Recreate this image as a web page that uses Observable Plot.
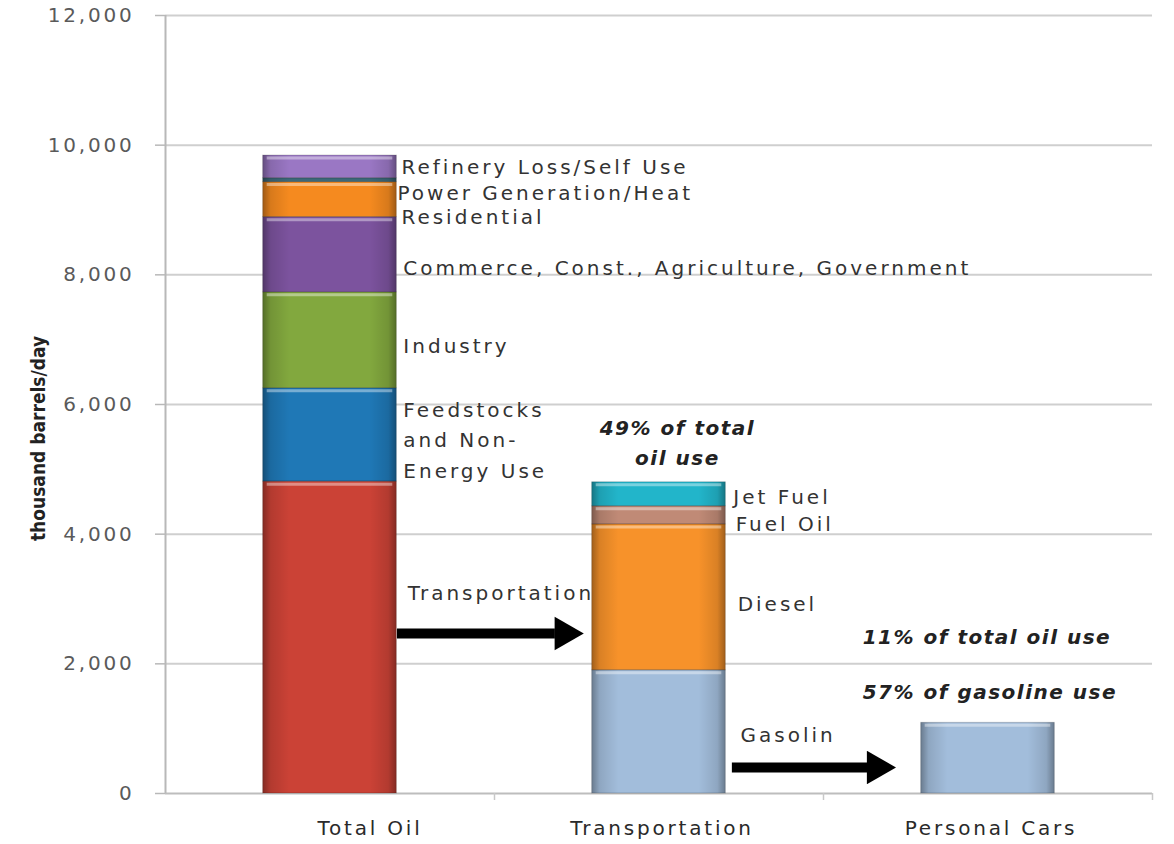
<!DOCTYPE html>
<html><head><meta charset="utf-8">
<script src="https://cdn.jsdelivr.net/npm/d3@7"></script>
<script src="https://cdn.jsdelivr.net/npm/@observablehq/plot@0.6"></script>
<style>
html,body{margin:0;padding:0;background:#fff;overflow:hidden;}
#chart svg{font-family:"DejaVu Sans",sans-serif;}
#chart svg text{letter-spacing:2.8px;}
#chart g[aria-label="y-axis tick label"] text{font-size:20px;fill:#5a5a5a;}
#chart .seglabel text{letter-spacing:3px;}
#chart .bolditalic text{letter-spacing:1.5px;}
#chart .ytitle text{letter-spacing:0px;font-family:"DejaVu Sans Condensed","DejaVu Sans",sans-serif;}
</style></head><body><div id="chart"></div>
<script>
// ---- data ----
const categories = ["Total Oil", "Transportation", "Personal Cars"];
const totalOilSegments = ["Transportation", "Feedstocks and Non-Energy Use", "Industry",
  "Commerce, Const., Agriculture, Government", "Power Generation/Heat", "Residential", "Refinery Loss/Self Use"];
const totalOilValues = [4810, 1440, 1480, 1160, 540, 60, 350];
const transportSegments = ["Gasolin", "Diesel", "Fuel Oil", "Jet Fuel"];
const transportValues = [1900, 2250, 280, 370];
const personalCarsSegments = ["Gasoline (personal cars)"];
const personalCarsValues = [1090];
const yTicks = [0, 2000, 4000, 6000, 8000, 10000, 12000];
const yTitle = "thousand barrels/day";

// annotation texts and their anchors (category units, thousand barrels/day)
const segLabels = ["Refinery Loss/Self Use", "Power Generation/Heat", "Residential",
  "Commerce, Const., Agriculture, Government", "Industry", "Feedstocks\nand Non-\nEnergy Use",
  "Transportation", "Jet Fuel", "Fuel Oil", "Diesel", "Gasolin"];
const segLabelX = [0.717, 0.705, 0.717, 0.723, 0.723, 0.723, 0.736, 1.726, 1.733, 1.739, 1.748];
const segLabelY = [9700, 9300, 8940, 8144, 6941, 5491, 3131, 4612, 4195, 2961, 941];
const centerNote = "49% of total\noil use";
const centerNoteX = 1.556;
const centerNoteY = 5445;
const sideNotes = ["11% of total oil use", "57% of gasoline use"];
const sideNoteX = [2.119, 2.119];
const sideNoteY = [2406, 1558];
const arrowFrom = [0.705, 1.723];
const arrowTo = [1.185, 2.134];
const arrowY = [2468, 401];

// ---- styles ----
const segColors = {
  "Transportation": "#cb4236",
  "Feedstocks and Non-Energy Use": "#1f78b6",
  "Industry": "#82a83e",
  "Commerce, Const., Agriculture, Government": "#7c539e",
  "Power Generation/Heat": "#f58a1f",
  "Residential": "#3c6878",
  "Refinery Loss/Self Use": "#9a77c4",
  "Gasolin": "#a2bddb",
  "Diesel": "#f7922a",
  "Fuel Oil": "#c08a76",
  "Jet Fuel": "#22b5ca",
  "Gasoline (personal cars)": "#a2bddb"
};
const HALF = 0.203;

const rows = [];
function addBar(ci, names, values) {
  let acc = 0;
  names.forEach((n, i) => { rows.push({ci, seg: n, y1: acc, y2: acc + values[i]}); acc += values[i]; });
}
addBar(0, totalOilSegments, totalOilValues);
addBar(1, transportSegments, transportValues);
addBar(2, personalCarsSegments, personalCarsValues);

const arrows = arrowFrom.map((x1, i) => ({x1, x2: arrowTo[i], y: arrowY[i]}));
const segLabelRows = segLabels.map((t, i) => ({t, x: segLabelX[i], y: segLabelY[i]}));
const sideNoteRows = sideNotes.map((t, i) => ({t, x: sideNoteX[i], y: sideNoteY[i]}));

function defs() {
  const svg = d3.create("svg:defs");
  const g = svg.append("linearGradient").attr("id", "barShade").attr("x1", "0").attr("x2", "1").attr("y1", "0").attr("y2", "0");
  [[0, 0.35], [0.06, 0.12], [0.2, 0.0], [0.8, 0.0], [0.94, 0.12], [1, 0.35]].forEach(([o, a]) =>
    g.append("stop").attr("offset", o).attr("stop-color", "#000").attr("stop-opacity", a));
  return svg.node();
}

const chart = Plot.plot({
  width: 1174, height: 844,
  marginLeft: 165, marginRight: 22, marginTop: 15, marginBottom: 51,
  x: {domain: [0, 3], axis: null},
  y: {domain: [0, 12000], axis: null},
  color: {type: "identity"},
  style: {fontFamily: "DejaVu Sans", background: "#fff"},
  marks: [
    defs,
    Plot.ruleY(yTicks.filter(d => d > 0), {x1: 0, x2: 3, stroke: "#cfcfcf", strokeWidth: 2}),
    Plot.ruleY([0], {x1: 0, x2: 3, stroke: "#bdbdbd", strokeWidth: 2}),
    Plot.ruleX([0], {y1: 0, y2: 12000, stroke: "#b8b8b8", strokeWidth: 2}),
    Plot.axisY({ticks: yTicks, tickFormat: d3.format(","), tickSize: 10, tickPadding: 21, stroke: "#b8b8b8", strokeWidth: 1.5, label: null}),
    Plot.axisX({ticks: [1, 2, 3], tickFormat: () => "", tickSize: 7, stroke: "#c8c8c8", strokeWidth: 1.5, label: null}),
    Plot.text(categories.slice(0, 1), {x: 0.5, y: 0, dy: 35, dx: 40, fontSize: 20, fill: "#2a2a2a"}),
    Plot.text(categories.slice(1), {x: (d, i) => i + 1.5, y: 0, dy: 35, dx: 3, fontSize: 20, fill: "#2a2a2a"}),
    Plot.text([yTitle], {frameAnchor: "left", textAnchor: "middle", dx: -127, dy: 34, rotate: -90, fontSize: 19, fontWeight: "bold", fill: "#222", className: "ytitle"}),
    Plot.rect(rows, {x1: d => d.ci + 0.5 - HALF, x2: d => d.ci + 0.5 + HALF, y1: "y1", y2: "y2", fill: d => segColors[d.seg]}),
    Plot.rect(rows, {x1: d => d.ci + 0.5 - HALF, x2: d => d.ci + 0.5 + HALF, y1: "y1", y2: "y2", fill: "url(#barShade)", stroke: "#000", strokeOpacity: 0.18, strokeWidth: 1}),
    Plot.ruleY(rows.filter(d => d.y2 - d.y1 > 150), {x1: d => d.ci + 0.5 - HALF, x2: d => d.ci + 0.5 + HALF, y: "y2", dy: 2.5, stroke: "#fff", strokeOpacity: 0.4, strokeWidth: 3, insetLeft: 4, insetRight: 4}),
    Plot.text(segLabelRows, {x: "x", y: "y", text: "t", textAnchor: "start", fontSize: 20, lineHeight: 1.53, fill: "#333", className: "seglabel"}),
    Plot.text([centerNote], {x: centerNoteX, y: centerNoteY, textAnchor: "middle", fontSize: 20, lineHeight: 1.5, fontWeight: "bold", fontStyle: "italic", fill: "#222", className: "bolditalic"}),
    Plot.text(sideNoteRows, {x: "x", y: "y", text: "t", textAnchor: "start", fontSize: 20, fontWeight: "bold", fontStyle: "italic", fill: "#222", className: "bolditalic"}),
    Plot.ruleY(arrows, {x1: "x1", x2: "x2", y: "y", stroke: "#000", strokeWidth: 10}),
    Plot.dot(arrows, {x: "x2", y: "y", symbol: "triangle", r: 12.5, rotate: 90, dx: 9, fill: "#000", stroke: "none"})
  ]
});
document.getElementById("chart").appendChild(chart);
</script></body></html>
